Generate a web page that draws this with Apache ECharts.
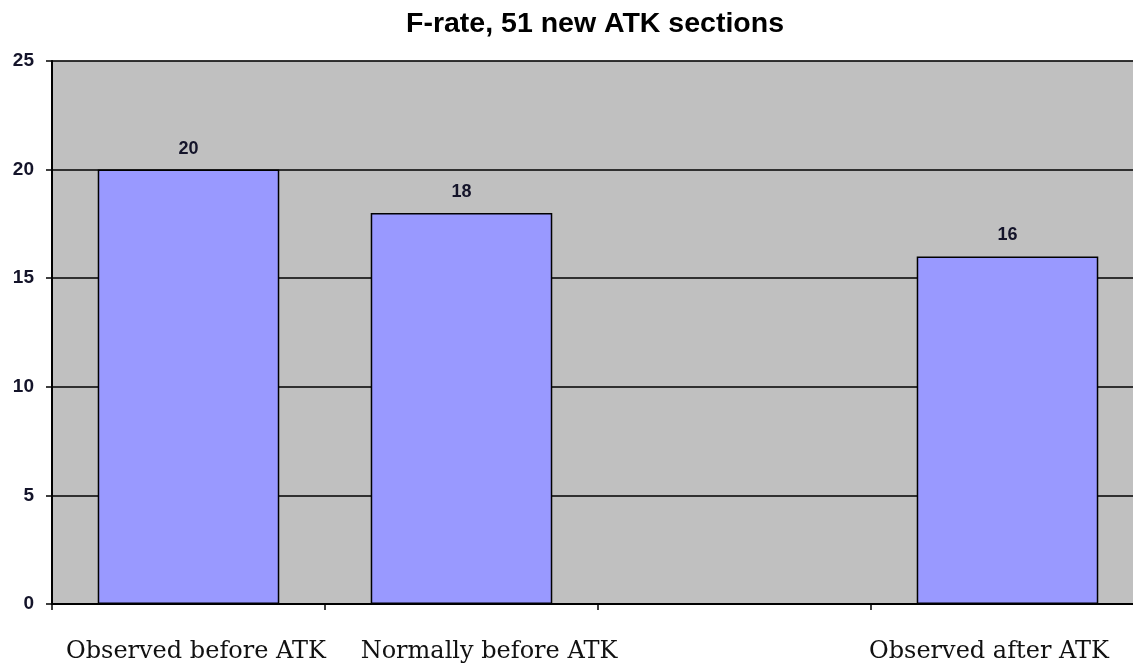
<!DOCTYPE html>
<html>
<head>
<meta charset="utf-8">
<script src="https://cdn.jsdelivr.net/npm/echarts@6/dist/echarts.min.js"></script>
<style>
  html, body { margin: 0; padding: 0; background: #fff; overflow: hidden; }
  /* plot area runs slightly past the right edge of the window */
  #chart { width: 1145px; height: 666px; }
</style>
</head>
<body>
<div id="chart"></div>
<script>
// F-rate per ATK section group
const titleText = 'F-rate, 51 new ATK sections';
const categories = ['Observed before ATK', 'Normally before ATK', '', 'Observed after ATK'];
const fRate = [20, 18, null, 16];
const yTicks = { min: 0, max: 25, interval: 5 };

const sans = "'Liberation Sans', Arial, sans-serif";
const serif = "'DejaVu Serif', serif";

// category labels sit a little off their slot centres
const labelShift = [15, 55, 0, -37];
const xData = categories.map((c, i) => ({
  value: c,
  textStyle: { padding: labelShift[i] >= 0 ? [0, 0, 0, labelShift[i]] : [0, -labelShift[i], 0, 0] }
}));

const chart = echarts.init(document.getElementById('chart'));
chart.setOption({
  animation: false,
  title: {
    text: titleText,
    left: 590,
    textAlign: 'center',
    top: 5,
    textStyle: { fontFamily: sans, fontWeight: 'bold', fontSize: 28.5, color: '#000' }
  },
  grid: { left: 52, right: 1, top: 61, bottom: 62, show: true, backgroundColor: '#c0c0c0', borderColor: '#a8a8a8', borderWidth: 1 },
  xAxis: {
    type: 'category',
    data: xData,
    axisLine: { lineStyle: { color: '#000', width: 2 } },
    axisTick: { show: true, length: 6, lineStyle: { color: '#000', width: 1.5 } },
    axisLabel: { margin: 36, fontFamily: serif, fontSize: 24, color: '#111', interval: 0 }
  },
  yAxis: {
    type: 'value',
    min: yTicks.min, max: yTicks.max, interval: yTicks.interval,
    axisLine: { show: true, lineStyle: { color: '#000', width: 2 } },
    axisTick: { show: true, length: 6, lineStyle: { color: '#000', width: 1.5 } },
    splitLine: { lineStyle: { color: '#000', width: 1.5 } },
    axisLabel: { margin: 18, fontFamily: sans, fontWeight: 'bold', fontSize: 19, color: '#14142a' }
  },
  series: [{
    type: 'bar',
    data: fRate,
    barCategoryGap: '33.5%',
    itemStyle: { color: '#9999ff', borderColor: '#000', borderWidth: 1.5 },
    label: { show: true, position: 'top', distance: 12, fontFamily: sans, fontWeight: 'bold', fontSize: 18, color: '#14142a' }
  }]
});
</script>
</body>
</html>
